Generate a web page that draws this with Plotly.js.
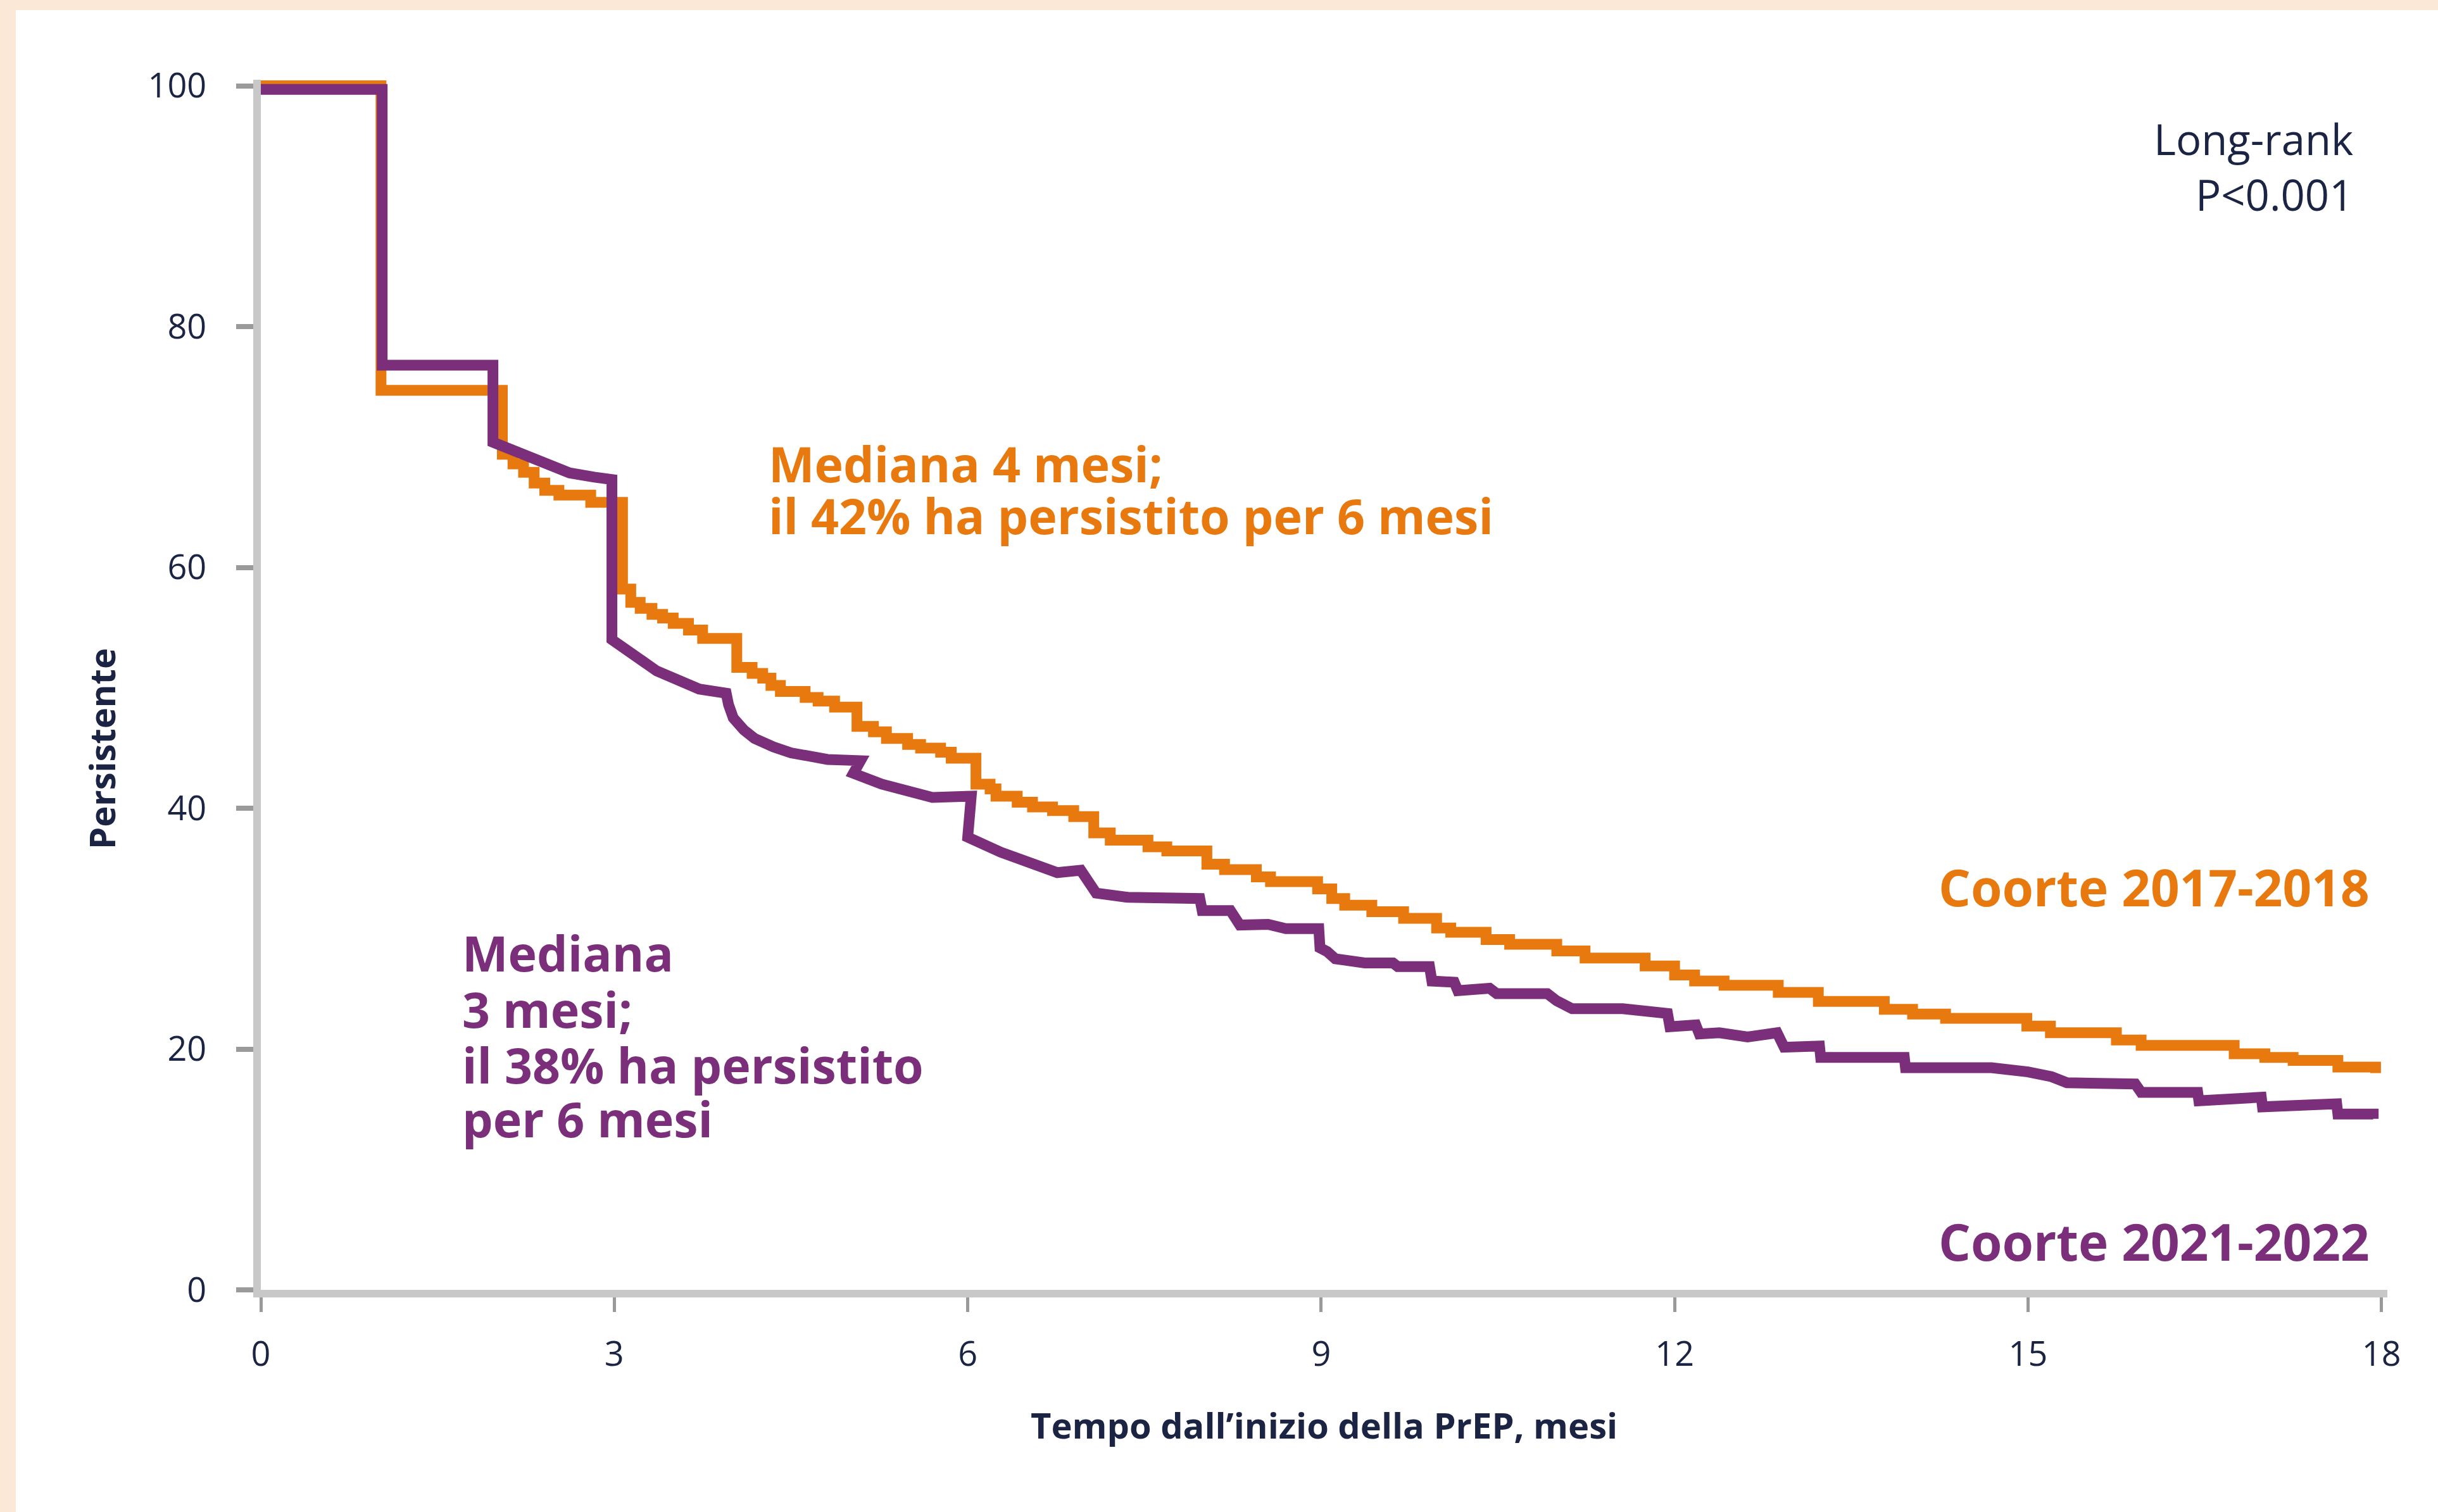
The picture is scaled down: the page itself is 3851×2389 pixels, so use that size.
<!DOCTYPE html>
<html>
<head>
<meta charset="utf-8">
<script src="https://cdn.plot.ly/plotly-3.0.1.min.js"></script>
<style>
  html, body { margin: 0; padding: 0; background: #fce8d6; width: 3851px; height: 2389px; overflow: hidden; }
  #chart { position: absolute; left: 25px; top: 16px; width: 3826px; height: 2373px; background: #ffffff; }
</style>
</head>
<body>
<div id="chart"></div>
<script>
// ---- Data ----
const cohortNames = ["Coorte 2017-2018", "Coorte 2021-2022"];

const monthsOrange = [0, 1.02, 2.05, 2.14, 2.23, 2.32, 2.41, 2.53, 2.80, 3.07, 3.14, 3.22, 3.32, 3.41, 3.50, 3.63, 3.75,
  4.04, 4.17, 4.26, 4.33, 4.41, 4.62, 4.73, 4.87, 5.06, 5.20, 5.31, 5.49, 5.60, 5.77, 5.86,
  6.07, 6.19, 6.24, 6.42, 6.55, 6.72, 6.90, 7.07, 7.21, 7.53, 7.69, 8.03, 8.18, 8.45, 8.57, 8.97,
  9.09, 9.20, 9.43, 9.70, 9.98, 10.10, 10.40, 10.60, 11.00, 11.24, 11.75, 12.00, 12.17, 12.42, 12.88,
  13.22, 13.78, 14.02, 14.30, 14.99, 15.19, 15.75, 15.96, 16.75, 17.01, 17.25, 17.63, 17.95];
const persistOrange = [100, 74.7, 69.4, 68.6, 67.9, 67.0, 66.4, 66.0, 65.4, 58.2, 57.1, 56.6, 56.1, 55.8, 55.35, 54.8, 54.1,
  51.7, 51.2, 50.8, 50.2, 49.7, 49.2, 48.9, 48.4, 46.8, 46.35, 45.8, 45.3, 45.0, 44.65, 44.15,
  42.0, 41.6, 41.0, 40.5, 40.1, 39.8, 39.3, 37.95, 37.35, 36.8, 36.45, 35.35, 34.9, 34.3, 33.9, 33.3,
  32.5, 31.95, 31.4, 30.85, 30.05, 29.7, 29.1, 28.7, 28.15, 27.55, 26.9, 26.15, 25.65, 25.3, 24.7,
  23.95, 23.3, 22.9, 22.55, 21.9, 21.35, 20.75, 20.3, 19.6, 19.3, 19.05, 18.5, 18.0];

const monthsPurple = [0, 1.03, 1.03, 1.97, 1.97, 2.30, 2.62, 2.83, 2.98, 2.98, 3.36, 3.72, 3.95, 3.97, 4.01, 4.10, 4.19, 4.35,
  4.50, 4.81, 5.09, 5.03, 5.27, 5.70, 6.03, 6.00, 6.28, 6.76, 6.96, 7.09, 7.36, 7.97, 7.99, 8.23, 8.31,
  8.55, 8.70, 8.98, 8.99, 9.05, 9.12, 9.37, 9.61, 9.65, 9.92, 9.94, 10.13, 10.16, 10.43, 10.49, 10.92,
  11.00, 11.13, 11.56, 11.94, 11.96, 12.18, 12.21, 12.38, 12.62, 12.87, 12.93, 13.23, 13.24, 13.95,
  13.96, 14.69, 15.00, 15.20, 15.33, 15.67, 15.76, 15.91, 15.96, 16.44, 16.45, 16.98, 16.99, 17.62,
  17.63, 17.93, 17.93];
const persistPurple = [99.7, 99.7, 76.8, 76.8, 70.4, 69.1, 67.85, 67.5, 67.3, 54.0, 51.4, 49.9, 49.55, 48.6, 47.5, 46.5, 45.8, 45.1,
  44.6, 44.05, 43.95, 42.9, 42.0, 40.9, 41.0, 37.6, 36.35, 34.65, 34.85, 32.95, 32.6, 32.5, 31.5, 31.5, 30.3,
  30.35, 30.0, 30.0, 28.4, 28.1, 27.5, 27.15, 27.15, 26.85, 26.85, 25.65, 25.55, 24.85, 25.05, 24.6, 24.6,
  24.0, 23.35, 23.35, 22.95, 21.85, 22.0, 21.25, 21.35, 21.0, 21.35, 20.15, 20.25, 19.3, 19.3,
  18.45, 18.45, 18.1, 17.7, 17.2, 17.2, 17.0, 17.1, 16.4, 16.4, 15.7, 16.0, 15.2, 15.45,
  14.6, 14.6, 14.2];

const xTickVals = [0, 3, 6, 9, 12, 15, 18];
const xTickText = ["0", "3", "6", "9", "12", "15", "18"];
const yTickVals = [0, 20, 40, 60, 80, 100];
const yTickText = ["0", "20", "40", "60", "80", "100"];

const xTitle = "Tempo dall\u2019inizio della PrEP, mesi";
const yTitle = "Persistente";
const orangeNote = ["Mediana 4 mesi;", "il 42% ha persistito per 6 mesi"];
const purpleNote = ["Mediana", "3 mesi;", "il 38% ha persistito", "per 6 mesi"];
const testNote = ["Long-rank", "P<0.001"];

// ---- Styles ----
const ORANGE = "#e8790f";
const PURPLE = "#7b2f7a";
const NAVY = "#1b2543";
const FONT = "Open Sans, Lato, sans-serif";

const traces = [
  {
    x: monthsOrange, y: persistOrange, name: cohortNames[0],
    type: "scatter", mode: "lines",
    line: { color: ORANGE, width: 17, shape: "hv" },
    hoverinfo: "skip"
  },
  {
    x: monthsPurple, y: persistPurple, name: cohortNames[1],
    type: "scatter", mode: "lines",
    line: { color: PURPLE, width: 17, shape: "linear" },
    hoverinfo: "skip"
  }
];

function ann(text, x, y, opts) {
  return Object.assign({
    text: text, x: x, y: y, xref: "x", yref: "y",
    showarrow: false, xanchor: "left", yanchor: "middle",
    font: { family: FONT, size: 80, color: NAVY, weight: 700 }
  }, opts || {});
}
const noteFont = (c) => ({ family: FONT, size: 77, color: c, weight: 700 });

const annotations = [
  ann(orangeNote[0], 4.30, 68.6, { font: noteFont(ORANGE) }),
  ann(orangeNote[1], 4.30, 64.3, { font: noteFont(ORANGE) }),
  ann(purpleNote[0], 1.70, 28.0, { font: noteFont(PURPLE) }),
  ann(purpleNote[1], 1.70, 23.3, { font: noteFont(PURPLE) }),
  ann(purpleNote[2], 1.70, 18.7, { font: noteFont(PURPLE) }),
  ann(purpleNote[3], 1.70, 14.2, { font: noteFont(PURPLE) }),
  ann(cohortNames[0], 17.91, 33.5, { xanchor: "right", font: { family: FONT, size: 80, color: ORANGE, weight: 700 } }),
  ann(cohortNames[1], 17.91, 4.1, { xanchor: "right", font: { family: FONT, size: 80, color: PURPLE, weight: 700 } }),
  ann(testNote[0], 17.77, 95.6, { xanchor: "right", font: { family: FONT, size: 67, color: NAVY, weight: 400 } }),
  ann(testNote[1], 17.77, 91.0, { xanchor: "right", font: { family: FONT, size: 67, color: NAVY, weight: 400 } }),
  {
    text: xTitle, xref: "paper", yref: "paper", x: 0.5, y: -0.1114,
    showarrow: false, xanchor: "center", yanchor: "middle",
    font: { family: FONT, size: 56, color: NAVY, weight: 700 }
  },
  {
    text: yTitle, xref: "paper", yref: "paper", x: -0.075, y: 0.4472,
    showarrow: false, xanchor: "center", yanchor: "middle", textangle: -90,
    font: { family: FONT, size: 56, color: NAVY, weight: 700 }
  }
];

const layout = {
  width: 3826, height: 2373,
  margin: { l: 387, r: 80, t: 110, b: 351, pad: 0 },
  paper_bgcolor: "#ffffff", plot_bgcolor: "#ffffff",
  showlegend: false,
  font: { family: FONT, color: NAVY },
  xaxis: {
    range: [0, 18.05], tickmode: "array", tickvals: xTickVals, ticktext: xTickText,
    showline: true, linecolor: "#c9c8c8", linewidth: 12,
    ticks: "outside", ticklen: 23, tickwidth: 5, tickcolor: "#9a9a9a",
    ticklabelstandoff: 20,
    tickfont: { family: FONT, size: 54, color: NAVY },
    showgrid: false, zeroline: false, fixedrange: true
  },
  yaxis: {
    range: [0, 100.5], tickmode: "array", tickvals: yTickVals, ticktext: yTickText,
    showline: true, linecolor: "#c9c8c8", linewidth: 12,
    ticks: "outside", ticklen: 27, tickwidth: 8, tickcolor: "#9a9a9a",
    ticklabelstandoff: 36,
    tickfont: { family: FONT, size: 54, color: NAVY },
    showgrid: false, zeroline: false, fixedrange: true
  },
  annotations: annotations
};

Plotly.newPlot("chart", traces, layout, { displayModeBar: false, staticPlot: true });
</script>
</body>
</html>
